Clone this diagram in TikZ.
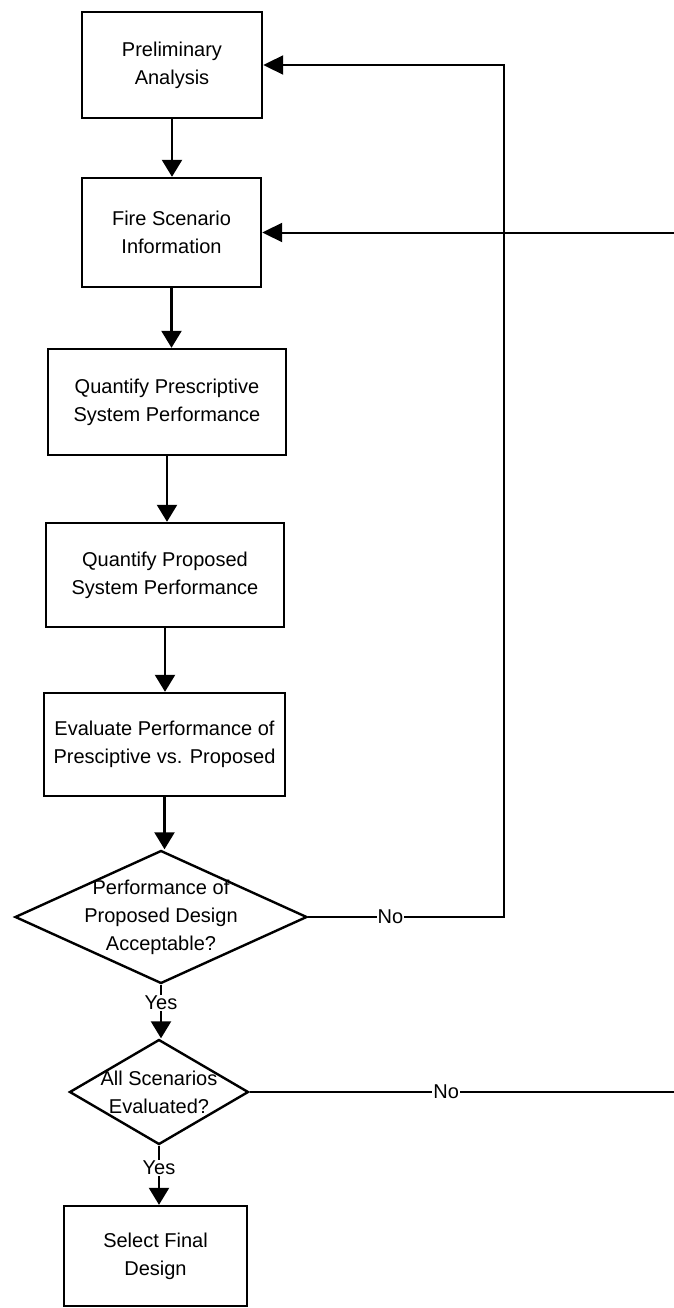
\documentclass[tikz,border=0pt]{standalone}
\usepackage{fontspec}
\setmainfont{Liberation Sans}
\usetikzlibrary{arrows.meta,shapes.geometric}
\begin{document}
\begin{tikzpicture}[x=1pt,y=-1pt,
  txt/.style={font=\fontsize{20}{28}\selectfont, align=center},
  procbox/.style={draw, line width=2.4pt, rectangle, inner sep=0pt, txt},
  decbox/.style={draw, line width=2.4pt, diamond, inner sep=0pt},
  arr/.style={line width=2.4pt, -{Triangle[length=17pt,width=20pt]}},
  fb/.style={line width=2pt, -{Triangle[length=20pt,width=19pt]}},
  lbl/.style={fill=white, inner sep=1pt, txt}]
\useasboundingbox[fill=white] (0,0) rectangle (674,1308);

\node[procbox, minimum width=180pt, minimum height=106pt] (prel) at (172,65) {Preliminary\\Analysis};
\node[procbox, minimum width=179pt, minimum height=109pt] (fire) at (171.5,232.5) {Fire Scenario\\Information};
\node[procbox, minimum width=238pt, minimum height=106pt] (qpres) at (167,402) {Quantify Prescriptive\\System Performance};
\node[procbox, minimum width=238pt, minimum height=104pt] (qprop) at (165,575) {Quantify Proposed\\System Performance};
\node[procbox, minimum width=241pt, minimum height=103pt] (eval) at (164.5,744.5) {Evaluate Performance of\\Presciptive vs. Proposed};
\node[decbox, minimum width=292pt, minimum height=133pt,
  label={[txt]center:{Performance of\\Proposed Design\\Acceptable?}}] (d1) at (161,917) {};
\node[decbox, minimum width=179pt, minimum height=105pt,
  label={[txt]center:{All Scenarios\\Evaluated?}}] (d2) at (159,1092) {};
\node[procbox, minimum width=183pt, minimum height=100pt] (sel) at (155.5,1256) {Select Final\\Design};

\coordinate (c1) at (504,917);
\coordinate (c2) at (677,1092);

\draw[arr] (prel.south) -- (prel.south |- fire.north);
\draw[arr] (fire.south) -- (fire.south |- qpres.north);
\draw[arr] (qpres.south) -- (qpres.south |- qprop.north);
\draw[arr] (qprop.south) -- (qprop.south |- eval.north);
\draw[arr] (eval.south) -- (eval.south |- d1.north);
\draw[arr] (d1.south) -- node[lbl, pos=0.34] {Yes} (d1.south |- d2.north);
\draw[arr] (d2.south) -- node[lbl, pos=0.37] {Yes} (d2.south |- sel.north);

\draw[fb] (d1.east) -- node[lbl, pos=0.42] {No} (c1) |- (prel.east);
\draw[fb] (d2.east) -- node[lbl, pos=0.46] {No} (c2) |- (fire.east);
\end{tikzpicture}
\end{document}
